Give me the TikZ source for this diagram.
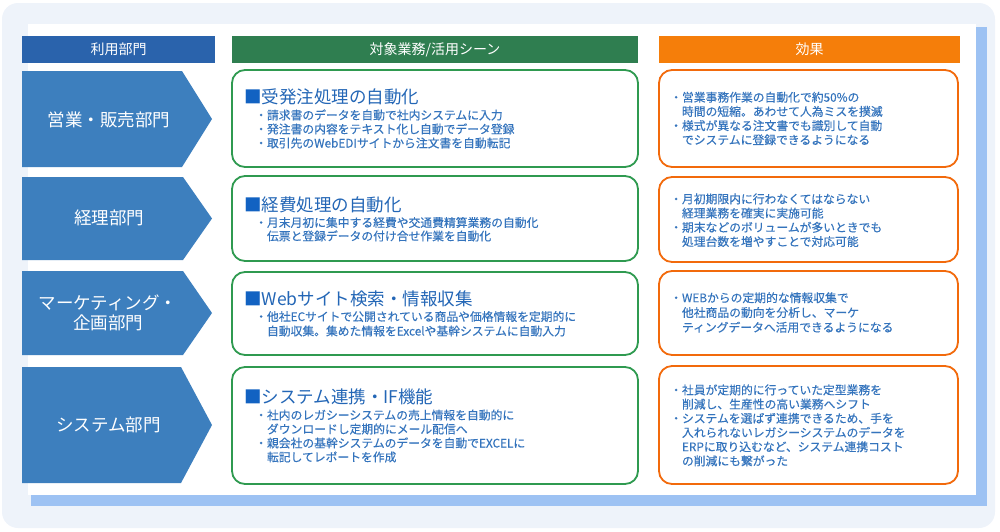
\documentclass[tikz,border=0pt]{standalone}
\usepackage{fontspec}
\setmainfont{Noto Sans CJK JP}
\newfontfamily\bulletfont[FakeBold=0.3]{Noto Sans CJK JP}
\definecolor{outerbg}{HTML}{EEF3FA}
\definecolor{shadowblue}{HTML}{9DC2F3}
\definecolor{hdrblue}{HTML}{2A63AC}
\definecolor{deptblue}{HTML}{3D7FBE}
\definecolor{hdrgreen}{HTML}{2F7E50}
\definecolor{boxgreen}{HTML}{2F9A50}
\definecolor{hdrorange}{HTML}{F57E0A}
\definecolor{boxorange}{HTML}{F26A0C}
\definecolor{titleblue}{HTML}{2366B6}
\definecolor{squareblue}{HTML}{1262C2}
\definecolor{textblue}{HTML}{3474BD}
\tikzset{
  hdr/.style={minimum height=27, inner sep=0, text=white, font=\fontsize{14}{16}\selectfont},
  dept/.style={fill=deptblue},
  depttext/.style={text=white, font=\fontsize{17.5}{20}\selectfont, align=center, inner sep=0},
  gbox/.style={draw=boxgreen, line width=1.8pt, rounded corners=13pt, fill=white, inner sep=0},
  obox/.style={draw=boxorange, line width=1.8pt, rounded corners=13pt, fill=white, inner sep=0},
  ttl/.style={anchor=base west, inner sep=0, text=titleblue, font=\fontsize{17.5}{20}\selectfont},
  gline/.style={anchor=base west, inner sep=0, text=textblue, font=\bulletfont\fontsize{11.8}{14}\selectfont},
  oline/.style={anchor=base west, inner sep=0, text=textblue, font=\bulletfont\fontsize{11.8}{14}\selectfont},
}
\newcommand{\indt}{\hphantom{・}}
\begin{document}
\begin{tikzpicture}[x=1pt,y=-1pt]
\useasboundingbox (0,0) rectangle (1000,531);
% background
\fill[outerbg, rounded corners=16pt] (2,3) rectangle (995,528);
\fill[shadowblue] (31,27) rectangle (987,506);
\fill[white] (28,24) rectangle (976,495);
% headers
\node[hdr, fill=hdrblue, minimum width=193] (h1) at (118.5,49.5) {利用部門};
\node[hdr, fill=hdrgreen, minimum width=406] (h2) at (435,49.5) {対象業務/活用シーン};
\node[hdr, fill=hdrorange, minimum width=301] (h3) at (809.5,49) {効果};
% department arrows
\fill[dept] (22,71) -- (182,71) -- (212,119) -- (182,167) -- (22,167) -- cycle;
\fill[dept] (22,177) -- (183,177) -- (212,218.5) -- (183,260) -- (22,260) -- cycle;
\fill[dept] (22,271) -- (183,271) -- (212,313) -- (183,355) -- (22,355) -- cycle;
\fill[dept] (22,367) -- (181,367) -- (212,425) -- (181,483) -- (22,483) -- cycle;
\node[depttext] (d1) at (109,119.5) {営業・販売部門};
\node[depttext] (d2) at (109,218) {経理部門};
\node[depttext] (d3) at (108,313) {マーケティング・\\企画部門};
\node[depttext] (d4) at (108.5,425) {システム部門};
% green boxes
\node[gbox, minimum width=406, minimum height=97] (g1) at (435,118.5) {};
\node[gbox, minimum width=406, minimum height=85] (g2) at (435,218.5) {};
\node[gbox, minimum width=406, minimum height=83] (g3) at (435,313.5) {};
\node[gbox, minimum width=406, minimum height=117] (g4) at (435,425.5) {};
% orange boxes
\node[obox, minimum width=299, minimum height=97] (o1) at (808.5,118.5) {};
\node[obox, minimum width=299, minimum height=85] (o2) at (808.5,219.5) {};
\node[obox, minimum width=299, minimum height=84] (o3) at (808.5,313) {};
\node[obox, minimum width=299, minimum height=118] (o4) at (808.5,425) {};
% green texts
\node[ttl] (g1t) at (244,103.5) {\textcolor{squareblue}{■}受発注処理の自動化};
\foreach \t [count=\i] in {・請求書のデータを自動で社内システムに入力,・発注書の内容をテキスト化し自動でデータ登録,・取引先のWebEDIサイトから注文書を自動転記}
  \node[gline] (g1l\i) at (255,{119.5+14*(\i-1)}) {\t};
\node[ttl] (g2t) at (244,211.5) {\textcolor{squareblue}{■}経費処理の自動化};
\foreach \t [count=\i] in {・月末月初に集中する経費や交通費精算業務の自動化,\indt 伝票と登録データの付け合せ作業を自動化}
  \node[gline] (g2l\i) at (255,{227+13.5*(\i-1)}) {\t};
\node[ttl] (g3t) at (244,305) {\textcolor{squareblue}{■}Webサイト検索・情報収集};
\foreach \t [count=\i] in {・他社ECサイトで公開されている商品や価格情報を定期的に,\indt 自動収集。集めた情報をExcelや基幹システムに自動入力}
  \node[gline] (g3l\i) at (255,{321+14.5*(\i-1)}) {\t};
\node[ttl] (g4t) at (244,403.5) {\textcolor{squareblue}{■}システム連携・IF機能};
\foreach \t [count=\i] in {・社内のレガシーシステムの売上情報を自動的に,\indt ダウンロードし定期的にメール配信へ,・親会社の基幹システムのデータを自動でEXCELに,\indt 転記してレポートを作成}
  \node[gline] (g4l\i) at (255,{419.5+14*(\i-1)}) {\t};
% orange texts
\foreach \t [count=\i] in {・営業事務作業の自動化で約50\%の,\indt 時間の短縮。あわせて人為ミスを撲滅,・様式が異なる注文書でも識別して自動,\indt でシステムに登録できるようになる}
  \node[oline] (o1l\i) at (670,{101.7+14.2*(\i-1)}) {\t};
\foreach \t [count=\i] in {・月初期限内に行わなくてはならない,\indt 経理業務を確実に実施可能,・期末などのボリュームが多いときでも,\indt 処理台数を増やすことで対応可能}
  \node[oline] (o2l\i) at (670,{203.4+14.2*(\i-1)}) {\t};
\foreach \t [count=\i] in {・WEBからの定期的な情報収集で,\indt 他社商品の動向を分析し、マーケ,\indt ティングデータへ活用できるようになる}
  \node[oline] (o3l\i) at (670,{302.2+14.8*(\i-1)}) {\t};
\foreach \t [count=\i] in {・社員が定期的に行っていた定型業務を,\indt 削減し、生産性の高い業務へシフト,・システムを選ばず連携できるため、手を,\indt 入れられないレガシーシステムのデータを,\indt ERPに取り込むなど、システム連携コスト,\indt の削減にも繋がった}
  \node[oline] (o4l\i) at (670,{394.4+14.2*(\i-1)}) {\t};
\end{tikzpicture}
\end{document}
